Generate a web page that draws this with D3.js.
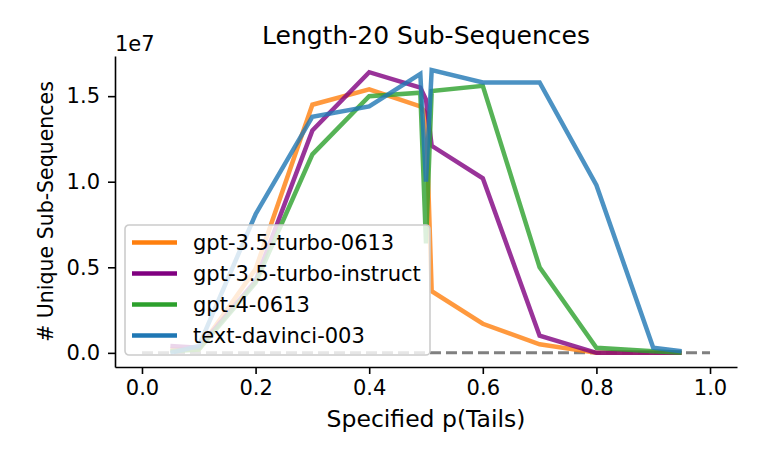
<!DOCTYPE html>
<html>
<head>
<meta charset="utf-8">
<script src="https://cdn.jsdelivr.net/npm/d3@7"></script>
<style>
	body { margin: 0; background: #fff; }
	text { font-family: "DejaVu Sans", sans-serif; }
	.tick text { font-family: "DejaVu Sans", sans-serif; font-size: 21px; fill: #000; }
</style>
</head>
<body>
<div id="graph"></div>
<script>
// values are in units of 1e7 unique sub-sequences
const pTails = [0.05, 0.1, 0.2, 0.3, 0.4, 0.49, 0.5, 0.51, 0.6, 0.7, 0.8, 0.9, 0.95];
const turbo0613 = [0.02, 0.02, 0.49, 1.45, 1.54, 1.44, 1.40, 0.36, 0.17, 0.05, 0.0, 0.0, 0.0];
const turboInstruct = [0.04, 0.03, 0.42, 1.30, 1.64, 1.55, 1.48, 1.21, 1.02, 0.10, 0.0, 0.0, 0.0];
const gpt4_0613 = [0.01, 0.02, 0.41, 1.16, 1.50, 1.52, 0.64, 1.53, 1.56, 0.50, 0.03, 0.01, 0.0];
const davinci003 = [0.0, 0.04, 0.81, 1.38, 1.44, 1.63, 1.00, 1.652, 1.58, 1.58, 0.98, 0.03, 0.01];
const seriesNames = ["gpt-3.5-turbo-0613", "gpt-3.5-turbo-instruct", "gpt-4-0613", "text-davinci-003"];
const seriesColors = ["#ff7f0e", "#800080", "#2ca02c", "#1f77b4"];
const xTicks = [0, 0.2, 0.4, 0.6, 0.8, 1.0];
const yTicks = [0, 0.5, 1.0, 1.5];
const baseline = [0, 1];

const width = 761;
const height = 457;
const marginTop = 56;
const marginRight = 24;
const marginBottom = 90;
const marginLeft = 115;

const allSeries = [turbo0613, turboInstruct, gpt4_0613, davinci003];

const xScale = d3.scaleLinear([-0.0475, 1.0475], [marginLeft, width - marginRight]);
const yMax = d3.max(allSeries, (s) => d3.max(s));
const pad = yMax * 0.05;
const yScale = d3.scaleLinear([-pad, yMax + pad], [height - marginBottom, marginTop]);

const svg = d3
	.select("#graph")
	.append("svg")
	.attr("width", width)
	.attr("height", height)
	.attr("viewBox", [0, 0, width, height]);

// zero reference line
svg
	.append("line")
	.attr("x1", xScale(baseline[0]))
	.attr("x2", xScale(baseline[1]))
	.attr("y1", yScale(0))
	.attr("y2", yScale(0))
	.attr("stroke", "#808080")
	.attr("stroke-width", 3)
	.attr("stroke-dasharray", "11,5");

const line = d3
	.line()
	.x((d, i) => xScale(pTails[i]))
	.y((d) => yScale(d));

svg
	.append("g")
	.attr("fill", "none")
	.attr("stroke-width", 4.5)
	.attr("stroke-opacity", 0.8)
	.selectAll("path")
	.data(allSeries)
	.join("path")
	.attr("stroke", (d, i) => seriesColors[i])
	.attr("d", line);

const xAxis = d3.axisBottom(xScale).tickValues(xTicks).tickFormat(d3.format(".1f")).tickSize(7).tickPadding(6).tickSizeOuter(0);
const yAxis = d3.axisLeft(yScale).tickValues(yTicks).tickFormat(d3.format(".1f")).tickSize(7).tickPadding(8).tickSizeOuter(0);

svg
	.append("g")
	.attr("transform", `translate(0,${height - marginBottom})`)
	.call(xAxis)
	.call((g) => g.selectAll(".tick line").attr("stroke-width", 1.6))
	.call((g) => g.select(".domain").attr("stroke-width", 1.6));

svg
	.append("g")
	.attr("transform", `translate(${marginLeft},0)`)
	.call(yAxis)
	.call((g) => g.selectAll(".tick line").attr("stroke-width", 1.6))
	.call((g) => g.select(".domain").attr("stroke-width", 1.6));

// offset label
svg
	.append("text")
	.attr("x", marginLeft)
	.attr("y", 51)
	.attr("font-size", 21)
	.text("1e7");

svg
	.append("text")
	.attr("x", (marginLeft + width - marginRight) / 2)
	.attr("y", 44)
	.attr("font-size", 25)
	.attr("text-anchor", "middle")
	.text("Length-20 Sub-Sequences");

svg
	.append("text")
	.attr("x", (marginLeft + width - marginRight) / 2)
	.attr("y", 427)
	.attr("font-size", 23.5)
	.attr("text-anchor", "middle")
	.text("Specified p(Tails)");

svg
	.append("text")
	.attr("transform", `translate(53,${(marginTop + height - marginBottom) / 2}) rotate(-90)`)
	.attr("font-size", 20.5)
	.attr("text-anchor", "middle")
	.text("# Unique Sub-Sequences");

// legend
const legend = svg.append("g").attr("transform", "translate(125,225)");
legend
	.append("rect")
	.attr("width", 305)
	.attr("height", 130)
	.attr("rx", 4)
	.attr("fill", "#fff")
	.attr("fill-opacity", 0.8)
	.attr("stroke", "#cccccc")
	.attr("stroke-width", 1.6);

const item = legend
	.selectAll("g.item")
	.data(seriesNames)
	.join("g")
	.attr("class", "item")
	.attr("transform", (d, i) => `translate(0,${17.5 + i * 31})`);

item
	.append("line")
	.attr("x1", 7)
	.attr("x2", 52)
	.attr("stroke", (d, i) => seriesColors[i])
	.attr("stroke-width", 4.5);

item
	.append("text")
	.attr("x", 68)
	.attr("dy", "0.35em")
	.attr("font-size", 21)
	.text((d) => d);
</script>
</body>
</html>
